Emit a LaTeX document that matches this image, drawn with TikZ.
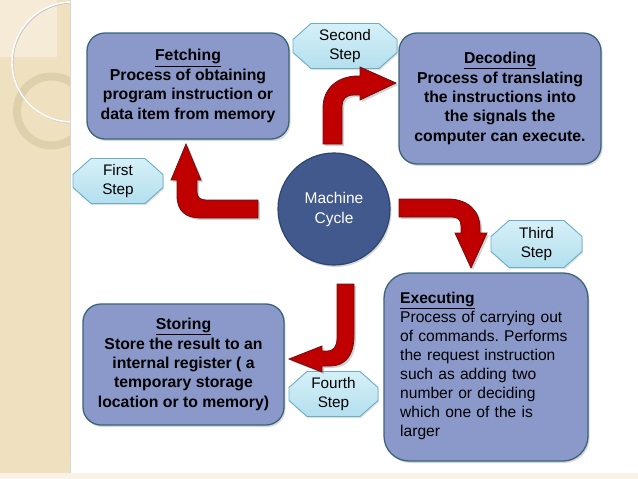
\documentclass[tikz,border=0pt]{standalone}
\usepackage{fontspec}
\setmainfont{Liberation Sans}
\usetikzlibrary{shadows}
\frenchspacing
\definecolor{boxfill}{HTML}{8A99CA}
\definecolor{boxline}{HTML}{3A6479}
\definecolor{stepfill}{HTML}{B3DFEE}
\definecolor{steptop}{HTML}{D6F0F8}
\definecolor{stepline}{HTML}{6AAEC8}
\definecolor{mcfill}{HTML}{41598C}
\definecolor{mcline}{HTML}{2E4470}
\definecolor{arrowred}{HTML}{C00000}
\definecolor{arrowline}{HTML}{6A1212}
\definecolor{beige}{HTML}{EFE0BF}
\definecolor{beigelight}{HTML}{F5EBD6}
\definecolor{ringcol}{HTML}{DCCCA8}
\pgfdeclarelayer{deco}
\pgfdeclarelayer{shapes}
\pgfsetlayers{deco,shapes,main}
\tikzset{
  infobox/.style={draw=boxline, line width=1.3pt, fill=boxfill, rounded corners=18pt,
    inner sep=0pt, align=center, font=\fontsize{15.8}{19.4}\selectfont\bfseries,
    drop shadow={shadow xshift=1.5pt, shadow yshift=-2pt, opacity=0.3}},
  steptext/.style={rectangle, inner sep=0pt, align=center, font=\fontsize{15.3}{19}\selectfont},
  stepshape/.style={draw=stepline, line width=0.9pt, top color=steptop, bottom color=stepfill,
    line join=round,
    drop shadow={shadow xshift=1pt, shadow yshift=-1.5pt, opacity=0.25}},
  bentarrow/.style={fill=arrowred, draw=arrowline, line width=0.8pt, line join=miter,
    drop shadow={shadow xshift=2pt, shadow yshift=-2pt, opacity=0.35}}
}
% octagon around a named step node: #1 name, #2 half width, #3 half height
\newcommand\stepoct[3]{%
  \begin{pgfonlayer}{shapes}
  \path[stepshape] ([xshift=-#2+18pt, yshift=#3]#1.center) -- ([xshift=#2-18pt, yshift=#3]#1.center)
    -- ([xshift=#2, yshift=#3-16pt]#1.center) -- ([xshift=#2, yshift=-#3+16pt]#1.center)
    -- ([xshift=#2-18pt, yshift=-#3]#1.center) -- ([xshift=-#2+18pt, yshift=-#3]#1.center)
    -- ([xshift=-#2, yshift=-#3+16pt]#1.center) -- ([xshift=-#2, yshift=#3-16pt]#1.center) -- cycle;
  \end{pgfonlayer}}
\begin{document}
\begin{tikzpicture}[x=1pt,y=-1pt]
\useasboundingbox (0,0) rectangle (638,479);
% background decoration
\begin{pgfonlayer}{deco}
\fill[white] (0,0) rectangle (638,479);
\fill[beige] (0,0) rectangle (70,479);
\fill[beigelight] (0,0) rectangle (57,57);
\fill[beigelight!60!white] (0,473) rectangle (638,479);
\begin{scope}
  \clip (0,0) rectangle (70,479);
  \draw[ringcol, opacity=0.8, line width=8pt] (51.5,111) circle (34.5);
  \draw[black!22, line width=1pt] (73,63) circle (60);
  \draw[white, line width=1.4pt] (72,62) circle (60);
\end{scope}
\draw[black!16, line width=1pt] (70.5,0) -- (70.5,473);
\end{pgfonlayer}

% boxes
\node[infobox, minimum width=202pt, minimum height=106pt] (fetch) at (188,86)
  {\underline{Fetching}\\Process of obtaining\\program instruction or\\data item from memory};
\node[infobox, minimum width=202pt, minimum height=131pt] (decode) at (500,98.5)
  {\underline{Decoding}\\Process of translating\\the instructions into\\the signals the\\computer can execute.};
\node[infobox, minimum width=201pt, minimum height=121pt] (store) at (183.5,364.5)
  {\underline{Storing}\\Store the result to an\\internal register ( a\\temporary storage\\location or to memory)};
\node[infobox, rounded corners=25pt, minimum width=204pt, minimum height=188pt] (exec) at (486,367) {};
\node[rectangle, inner sep=0pt, align=left, text width=180pt, font=\fontsize{15.6}{19}\selectfont,
      anchor=north west] (exectext) at (400,292)
  {\textbf{\underline{Executing}}\\Process of carrying out\\of commands. Performs\\the request instruction\\such as adding two\\number or deciding\\which one of the is\\larger};

% machine cycle
\node[circle, draw=mcline, line width=1.2pt, fill=mcfill, minimum size=112pt, inner sep=0pt,
      text=white, align=center, font=\fontsize{15.5}{20}\selectfont,
      drop shadow={shadow xshift=1.5pt, shadow yshift=-2pt, opacity=0.3}] (mc) at (334,209)
  {Machine\\Cycle};

% steps
\node[steptext] (s1) at (118,181) {First\\Step};
\node[steptext] (s2) at (345,46) {Second\\Step};
\node[steptext] (s3) at (536.5,244) {Third\\Step};
\node[steptext] (s4) at (333.5,394) {Fourth\\Step};
\stepoct{s1}{45pt}{22.5pt}
\stepoct{s2}{52pt}{22.5pt}
\stepoct{s3}{45.5pt}{23.5pt}
\stepoct{s4}{44.5pt}{22.5pt}

% bent arrows
\path[bentarrow] (258,200) -- (206,200) .. controls (200,200) and (197,197) .. (197,192)
  -- (197,180) -- (201,180) -- (186,144) -- (171,180) -- (177,180) -- (177,196)
  .. controls (177,211) and (186,218) .. (200,218) -- (258,218) -- cycle;
\path[bentarrow] (323,144) -- (323,108) .. controls (323,88) and (338,76) .. (358,76)
  -- (360,76) -- (360,67) -- (396,83) -- (360,100) -- (360,95) -- (354,95)
  .. controls (346,95) and (342,99) .. (342,106) -- (342,144) -- cycle;
\path[bentarrow] (399,199) -- (448,199) .. controls (467,199) and (480,210) .. (480,228)
  -- (480,233) -- (487,233) -- (471,268) -- (455,233) -- (461,233) -- (461,226)
  .. controls (461,220) and (458,217) .. (452,217) -- (399,217) -- cycle;
\path[bentarrow] (337,284) -- (354,284) -- (354,335) .. controls (354,356) and (345,366) .. (330,366)
  -- (322,366) -- (322,372) -- (289,359) -- (322,346) -- (322,351) -- (327,351)
  .. controls (334,351) and (337,346) .. (337,338) -- cycle;
\end{tikzpicture}
\end{document}
